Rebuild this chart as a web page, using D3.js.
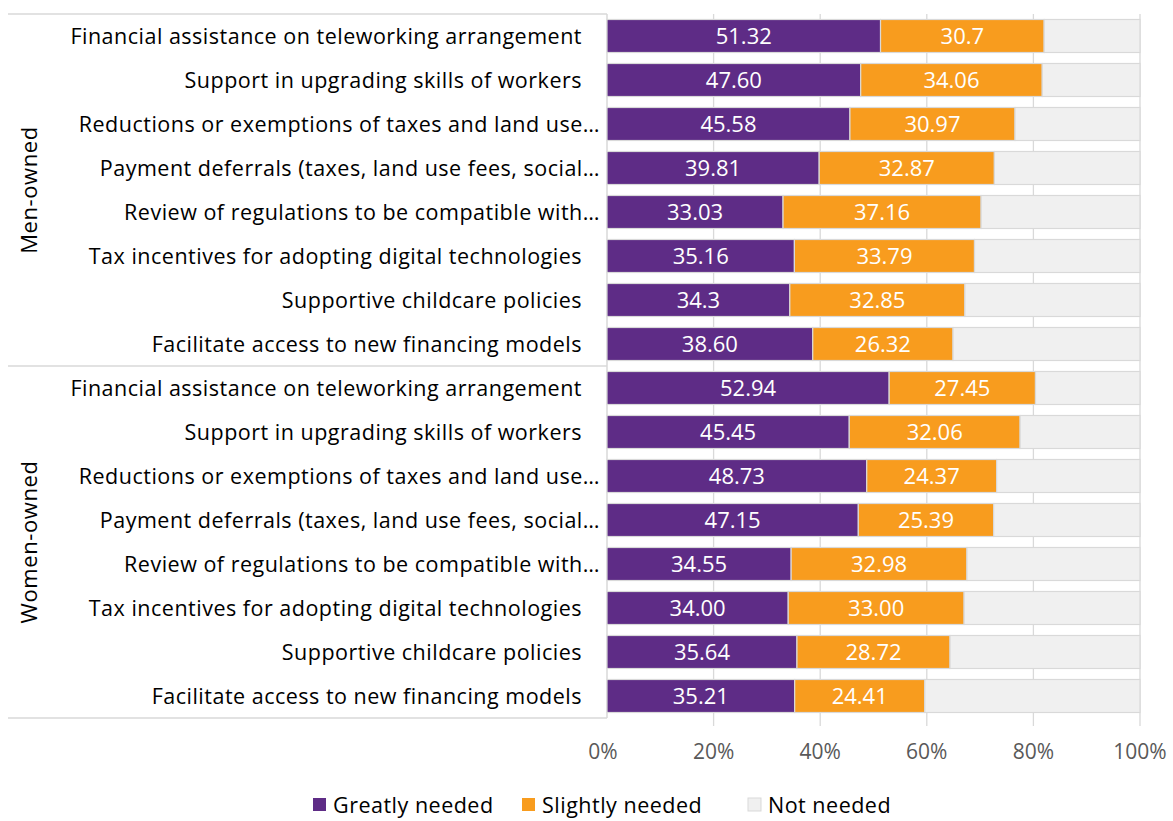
<!DOCTYPE html>
<html><head><meta charset="utf-8">
<script src="https://cdn.jsdelivr.net/npm/d3@7"></script>
<style>body{margin:0;background:#fff}svg{display:block}text{font-family:"Open Sans",sans-serif}</style>
</head><body><svg id="c" width="1173" height="821"></svg>
<script>
const groups = ["Men-owned", "Women-owned"];
const categories = [
  "Financial assistance on teleworking arrangement",
  "Support in upgrading skills of workers",
  "Reductions or exemptions of taxes and land use…",
  "Payment deferrals (taxes, land use fees, social…",
  "Review of regulations to be compatible with…",
  "Tax incentives for adopting digital technologies",
  "Supportive childcare policies",
  "Facilitate access to new financing models"
];
const series = ["Greatly needed", "Slightly needed", "Not needed"];
const menGreatly = [51.32, 47.60, 45.58, 39.81, 33.03, 35.16, 34.3, 38.60];
const menGreatlyLabels = ["51.32", "47.60", "45.58", "39.81", "33.03", "35.16", "34.3", "38.60"];
const menSlightly = [30.7, 34.06, 30.97, 32.87, 37.16, 33.79, 32.85, 26.32];
const menSlightlyLabels = ["30.7", "34.06", "30.97", "32.87", "37.16", "33.79", "32.85", "26.32"];
const menNot = [17.98, 18.34, 23.45, 27.32, 29.81, 31.05, 32.85, 35.08];
const womenGreatly = [52.94, 45.45, 48.73, 47.15, 34.55, 34.00, 35.64, 35.21];
const womenGreatlyLabels = ["52.94", "45.45", "48.73", "47.15", "34.55", "34.00", "35.64", "35.21"];
const womenSlightly = [27.45, 32.06, 24.37, 25.39, 32.98, 33.00, 28.72, 24.41];
const womenSlightlyLabels = ["27.45", "32.06", "24.37", "25.39", "32.98", "33.00", "28.72", "24.41"];
const womenNot = [19.61, 22.49, 26.90, 27.46, 32.47, 33.00, 35.64, 40.38];
const tickValues = [0, 20, 40, 60, 80, 100];
const tickLabels = ["0%", "20%", "40%", "60%", "80%", "100%"];

const colors = {"Greatly needed": "#5e2c86", "Slightly needed": "#f89c1e", "Not needed": "#f0f0f0"};

const rows = [];
groups.forEach((g, gi) => {
  categories.forEach((c, ci) => {
    const gr = gi === 0 ? menGreatly : womenGreatly;
    const sl = gi === 0 ? menSlightly : womenSlightly;
    const nn = gi === 0 ? menNot : womenNot;
    const grL = gi === 0 ? menGreatlyLabels : womenGreatlyLabels;
    const slL = gi === 0 ? menSlightlyLabels : womenSlightlyLabels;
    rows.push({key: gi + "-" + ci, group: g, cat: c,
      "Greatly needed": gr[ci], "Slightly needed": sl[ci], "Not needed": nn[ci],
      labels: {"Greatly needed": grL[ci], "Slightly needed": slL[ci]}});
  });
});

const svg = d3.select("#c");
const x = d3.scaleLinear().domain([0, 100]).range([607, 1140]);
const y = d3.scaleBand().domain(rows.map(r => r.key)).range([14, 718]).paddingInner(0.25).paddingOuter(0.125);

// gridlines
svg.append("g").selectAll("line").data(tickValues.slice(1)).join("line")
  .attr("x1", d => x(d)).attr("x2", d => x(d)).attr("y1", 14).attr("y2", 726)
  .attr("stroke", "#d9d9d9").attr("stroke-width", 1.3);

// group separators
[14, 366, 718].forEach(yy => {
  svg.append("line").attr("x1", 8).attr("x2", 607).attr("y1", yy).attr("y2", yy)
    .attr("stroke", "#d9d9d9").attr("stroke-width", 1.5);
});
svg.append("line").attr("x1", 607).attr("x2", 607).attr("y1", 14).attr("y2", 718)
  .attr("stroke", "#d9d9d9").attr("stroke-width", 1.5);

const stacked = d3.stack().keys(series)(rows);
const layer = svg.append("g").selectAll("g").data(stacked).join("g")
  .attr("fill", d => colors[d.key]);
layer.selectAll("rect").data(d => d.map(v => ({v, key: d.key}))).join("rect")
  .attr("x", d => x(d.v[0])).attr("width", d => x(d.v[1]) - x(d.v[0]))
  .attr("y", d => y(d.v.data.key)).attr("height", y.bandwidth())
  .attr("stroke", "#d9d9d9").attr("stroke-width", 1.2);

// value labels
stacked.filter(s => s.key !== "Not needed").forEach(s => {
  svg.append("g").selectAll("text").data(s).join("text")
    .attr("x", d => (x(d[0]) + x(d[1])) / 2)
    .attr("y", d => y(d.data.key) + y.bandwidth() / 2)
    .attr("dy", "0.36em").attr("text-anchor", "middle")
    .attr("fill", "#fff").attr("font-size", 22).attr("font-weight", 500)
    .text(d => d.data.labels[s.key]);
});

// category labels
svg.append("g").selectAll("text").data(rows).join("text")
  .attr("x", d => d.cat.endsWith("…") ? 600 : 582)
  .attr("y", d => y(d.key) + y.bandwidth() / 2)
  .attr("dy", "0.36em").attr("text-anchor", "end")
  .attr("fill", "#000").attr("font-size", 21.5).attr("letter-spacing", 0.5)
  .text(d => d.cat);

// group labels
groups.forEach((g, gi) => {
  const cy = gi === 0 ? 190 : 542;
  svg.append("text").attr("transform", `translate(37,${cy}) rotate(-90)`)
    .attr("text-anchor", "middle").attr("font-size", 22).attr("letter-spacing", 0.6)
    .attr("fill", "#000").text(g);
});

// x axis labels
svg.append("g").selectAll("text").data(tickValues).join("text")
  .attr("x", (d, i) => i === 0 ? x(d) - 4 : x(d))
  .attr("y", 759).attr("text-anchor", "middle")
  .attr("fill", "#595959").attr("font-size", 21)
  .text((d, i) => tickLabels[i]);

// legend
const legX = [313, 522, 748];
const leg = svg.append("g").selectAll("g").data(series).join("g")
  .attr("transform", (d, i) => `translate(${legX[i]},798)`);
leg.append("rect").attr("width", 13).attr("height", 13).attr("y", 0)
  .attr("fill", d => colors[d]).attr("stroke", d => d === "Not needed" ? "#d9d9d9" : "none");
leg.append("text").attr("x", 20).attr("y", 7).attr("dy", "0.36em")
  .attr("font-size", 21.5).attr("letter-spacing", 0.5).attr("fill", "#000").text(d => d);
</script></body></html>
